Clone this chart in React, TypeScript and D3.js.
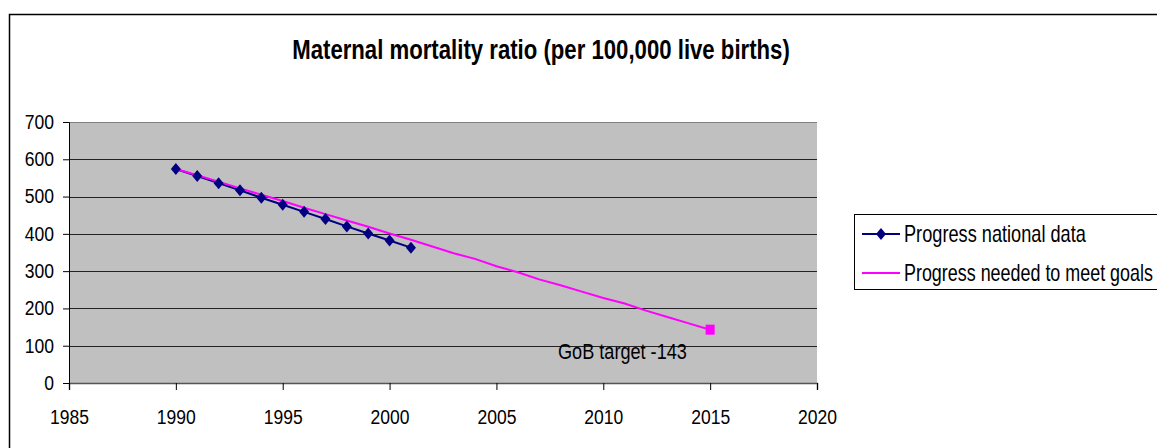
import React, { useEffect, useRef } from "react";
import * as d3 from "d3";

// national data (per 100,000 live births)
const nationalYears = [1990, 1991, 1992, 1993, 1994, 1995, 1996, 1997, 1998, 1999, 2000, 2001];
const nationalValues = [574, 555, 536, 517, 497, 478, 459, 440, 420, 401, 382, 363];

// progress needed to meet goals
const goalYears = [
  1990, 1991, 1992, 1993, 1994, 1995, 1996, 1997, 1998, 1999, 2000, 2001, 2002,
  2003, 2004, 2005, 2006, 2007, 2008, 2009, 2010, 2011, 2012, 2013, 2014, 2015,
];
const goalValues = [
  574, 557, 540, 522, 505, 488, 470, 453, 436, 419, 401, 384, 366, 348, 333, 313,
  297, 278, 262, 245, 228, 213, 194, 177, 160, 143,
];

const xTicks = [1985, 1990, 1995, 2000, 2005, 2010, 2015, 2020];
const yTicks = [0, 100, 200, 300, 400, 500, 600, 700];

const seriesNames = ["Progress national data", "Progress needed to meet goals"];
const titleText = "Maternal mortality ratio (per 100,000 live births)";
const targetLabel = "GoB target -143";

function App() {
  const ref = useRef<SVGSVGElement | null>(null);

  useEffect(() => {
    const svg = d3.select(ref.current);
    svg.selectAll("*").remove();

    // the original uses a narrow font, so squeeze Liberation Sans horizontally
    const font = "'Liberation Sans', Arial, sans-serif";
    const narrow = (sel: any, px: number, width: number) => {
      const natural = sel.node().getComputedTextLength();
      const sx = width / natural;
      sel.attr("x", 0).attr("transform", `translate(${px},0) scale(${sx},1)`);
    };

    const plot = { left: 69, right: 817, top: 122, bottom: 383 };

    const x = d3.scaleLinear().domain([1985, 2020]).range([plot.left, plot.right]);
    const y = d3.scaleLinear().domain([0, 700]).range([plot.bottom, plot.top]);

    // chart frame
    svg
      .append("rect")
      .attr("x", 9.5)
      .attr("y", 14.5)
      .attr("width", 1200)
      .attr("height", 500)
      .attr("fill", "#fff")
      .attr("stroke", "#000")
      .attr("stroke-width", 1.5);

    const title = svg
      .append("text")
      .attr("y", 59)
      .attr("text-anchor", "middle")
      .attr("font-family", font)
      .attr("font-weight", "bold")
      .attr("font-size", 27)
      .text(titleText);
    narrow(title, 541, 498);

    // plot area
    svg
      .append("rect")
      .attr("x", plot.left)
      .attr("y", plot.top)
      .attr("width", plot.right - plot.left)
      .attr("height", plot.bottom - plot.top)
      .attr("fill", "#c0c0c0");

    svg
      .append("g")
      .selectAll("line")
      .data(yTicks.filter((d) => d > 0))
      .enter()
      .append("line")
      .attr("x1", plot.left)
      .attr("x2", plot.right)
      .attr("y1", (d) => Math.round(y(d)) + 0.5)
      .attr("y2", (d) => Math.round(y(d)) + 0.5)
      .attr("stroke", (d) => (d === 700 ? "#808080" : "#222"))
      .attr("stroke-width", 1);

    // axes
    const gx = svg
      .append("g")
      .attr("transform", `translate(0,${plot.bottom})`)
      .call(d3.axisBottom(x).tickValues(xTicks).tickFormat(d3.format("d")).tickSizeOuter(0).tickSize(7).tickPadding(20));
    gx.select(".domain").attr("stroke", "#555").attr("stroke-width", 1.5);
    gx.selectAll(".tick line").attr("stroke", "#000");
    gx.selectAll("text")
      .attr("font-family", font)
      .attr("font-size", 20)
      .attr("fill", "#000")
      .attr("textLength", (d: any) => String(d).length * 9.75)
      .attr("lengthAdjust", "spacingAndGlyphs");

    const gy = svg
      .append("g")
      .attr("transform", `translate(${plot.left},0)`)
      .call(d3.axisLeft(y).tickValues(yTicks).tickSizeOuter(0).tickSize(6).tickPadding(9));
    gy.select(".domain").attr("stroke", "#000");
    gy.selectAll(".tick line").attr("stroke", "#000");
    gy.selectAll("text")
      .attr("font-family", font)
      .attr("font-size", 20)
      .attr("fill", "#000")
      .attr("textLength", (d: any) => String(d).length * 9.75)
      .attr("lengthAdjust", "spacingAndGlyphs");

    const line = d3
      .line<[number, number]>()
      .x((d) => x(d[0]))
      .y((d) => y(d[1]));

    const nat: [number, number][] = nationalYears.map((yr, i) => [yr, nationalValues[i]]);
    const goal: [number, number][] = goalYears.map((yr, i) => [yr, goalValues[i]]);

    svg
      .append("path")
      .datum(nat)
      .attr("d", line)
      .attr("fill", "none")
      .attr("stroke", "#000080")
      .attr("stroke-width", 2);

    svg
      .append("path")
      .datum(goal)
      .attr("d", line)
      .attr("fill", "none")
      .attr("stroke", "#ff00ff")
      .attr("stroke-width", 2);

    const diamond = "M0,-6L5,0L0,6L-5,0Z";
    svg
      .append("g")
      .selectAll("path")
      .data(nat)
      .enter()
      .append("path")
      .attr("transform", (d) => `translate(${x(d[0])},${y(d[1])})`)
      .attr("d", diamond)
      .attr("fill", "#000080");

    const last = goal[goal.length - 1];
    svg
      .append("rect")
      .attr("x", x(last[0]) - 4.5)
      .attr("y", y(last[1]) - 5)
      .attr("width", 9)
      .attr("height", 10)
      .attr("fill", "#ff00ff");

    const target = svg
      .append("text")
      .attr("y", 359)
      .attr("font-family", font)
      .attr("font-size", 23)
      .text(targetLabel);
    narrow(target, 558, 129);

    // legend
    const lg = svg.append("g");
    lg.append("rect")
      .attr("x", 854.5)
      .attr("y", 214.5)
      .attr("width", 400)
      .attr("height", 75)
      .attr("fill", "#fff")
      .attr("stroke", "#000")
      .attr("stroke-width", 1);

    const rows = [234, 273];
    const colors = ["#000080", "#ff00ff"];
    const widths = [182, 249];
    seriesNames.forEach((name, i) => {
      lg.append("line")
        .attr("x1", 862)
        .attr("x2", 900)
        .attr("y1", rows[i])
        .attr("y2", rows[i])
        .attr("stroke", colors[i])
        .attr("stroke-width", 2);
      if (i === 0) {
        lg.append("path")
          .attr("transform", `translate(881,${rows[i]})`)
          .attr("d", diamond)
          .attr("fill", colors[i]);
      }
      const t = lg
        .append("text")
        .attr("y", rows[i] + 8)
        .attr("font-family", font)
        .attr("font-size", 23)
        .text(name);
      narrow(t, 904, widths[i]);
    });
  }, []);

  return (
    <svg
      ref={ref}
      width={1157}
      height={448}
      style={{ position: "fixed", left: 0, top: 0, background: "#fff" }}
    />
  );
}

export default App;
